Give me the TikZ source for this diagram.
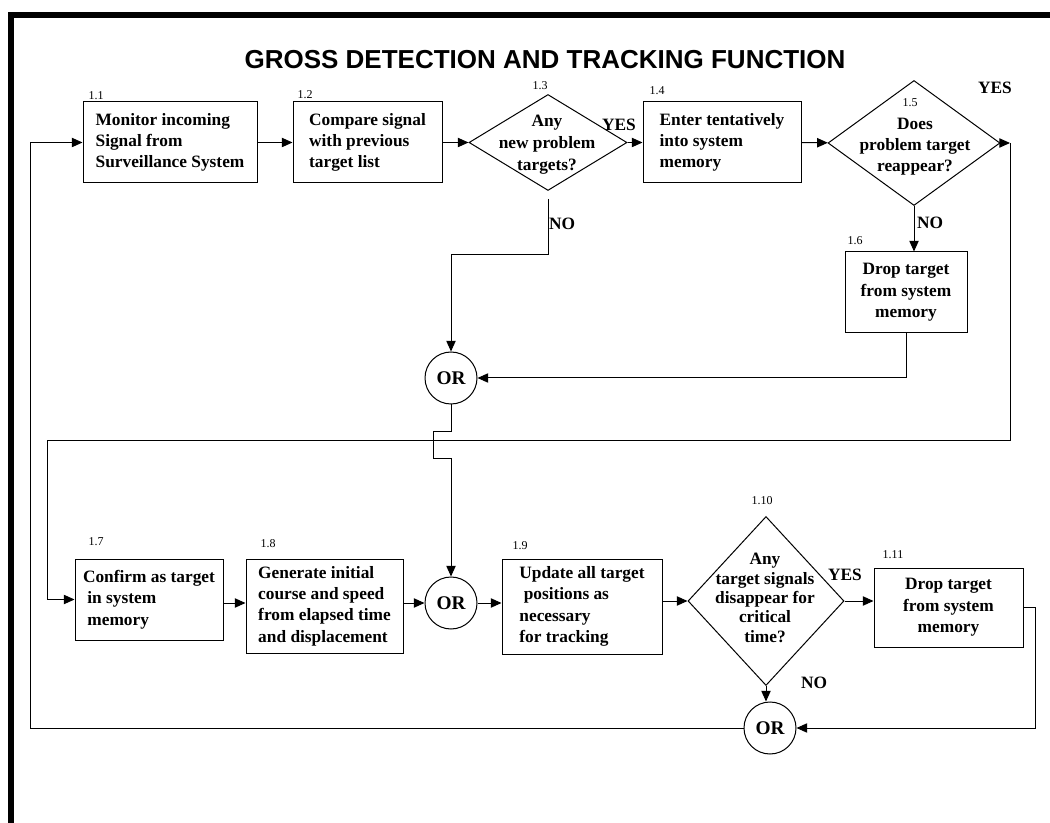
\documentclass[tikz,border=0pt]{standalone}
\usepackage{fontspec}
\setmainfont{Liberation Serif}
\newfontfamily\headfont{Liberation Sans}
\usetikzlibrary{shapes.geometric,arrows.meta}

\begin{document}
\begin{tikzpicture}[x=0.75pt,y=-0.75pt,line width=0.75pt,
    proc/.style={draw,align=left,font=\fontsize{13}{16}\selectfont\bfseries,minimum height=60.75pt},
    decision/.style={draw,diamond,inner sep=0pt},
    qtext/.style={align=center,font=\fontsize{13}{16}\selectfont\bfseries},
    orgate/.style={draw,circle,inner sep=0pt,minimum size=39pt,font=\fontsize{14.5}{17}\selectfont\bfseries},
    tag/.style={font=\fontsize{9}{11}\selectfont},
    answer/.style={font=\fontsize{13}{16}\selectfont\bfseries},
    arr/.style={-{Triangle[length=8pt,width=7pt]}}]
\useasboundingbox (0,0) rectangle (1050,823);
\draw[line width=4.5pt] (11,823) -- (11,15) -- (1050,15);
\node[font=\headfont\fontsize{19.5}{23}\selectfont\bfseries] (title) at (545,60) {GROSS DETECTION AND TRACKING FUNCTION};

% top row
\node[proc,minimum width=130.5pt] (b11) at (170,142.5) {Monitor incoming\\Signal from\\Surveillance System};
\node[proc,minimum width=111.75pt] (b12) at (367.5,142.5) {Compare signal\\with previous\\target list};
\node[decision,minimum width=118.5pt,minimum height=72pt] (d13) at (548,142.5) {};
\node[qtext,font=\fontsize{13}{16.5}\selectfont\bfseries] (t13) at (547,145) {Any\\new problem\\targets?};
\node[proc,minimum width=118.5pt] (b14) at (722,142.5) {Enter tentatively\\into system\\memory};
\node[decision,minimum width=129pt,minimum height=93.75pt] (d15) at (914,143) {};
\node[qtext,font=\fontsize{13}{15.75}\selectfont\bfseries] (t15) at (915,147) {Does\\problem target\\reappear?};
\node[proc,align=center,minimum width=91.5pt] (b16) at (906,292.5) {Drop target\\from system\\memory};
\node[orgate] (or1) at (451,378) {OR};

% bottom row
\node[proc,minimum width=111pt] (b17) at (149,599.5) {Confirm as target\\\ in system\\\ memory};
\node[proc,minimum width=117.75pt,minimum height=70.5pt] (b18) at (324.5,606) {Generate initial\\course and speed\\from elapsed time\\and displacement};
\node[orgate] (or2) at (451,603) {OR};
\node[proc,minimum width=120pt,minimum height=71.25pt] (b19) at (582,606.5) {Update all target\\\ positions as\\necessary\\for tracking};
\node[decision,minimum width=117pt,minimum height=126.75pt] (d110) at (766,601) {};
\node[qtext,font=\fontsize{13}{14.5}\selectfont\bfseries] (t110) at (765,598) {Any\\target signals\\disappear for\\critical\\time?};
\node[proc,align=center,minimum width=111.75pt,minimum height=59.25pt] (b111) at (948.5,607.5) {Drop target\\from system\\memory};
\node[orgate] (or3) at (770,728) {OR};

% step numbers
\node[tag] (n11) at (96,96) {1.1};
\node[tag] (n12) at (305,95) {1.2};
\node[tag] (n13) at (540,86) {1.3};
\node[tag] (n14) at (657,91) {1.4};
\node[tag] (n15) at (910,103) {1.5};
\node[tag] (n16) at (855,241) {1.6};
\node[tag] (n17) at (96,542) {1.7};
\node[tag] (n18) at (268,544) {1.8};
\node[tag] (n19) at (520,546) {1.9};
\node[tag] (n110) at (762,501) {1.10};
\node[tag] (n111) at (893,555) {1.11};

% yes / no
\node[answer] (y13) at (619,125) {YES};
\node[answer] (no13) at (562,224) {NO};
\node[answer] (y15) at (995,88) {YES};
\node[answer] (no15) at (930,223) {NO};
\node[answer] (y110) at (845,575) {YES};
\node[answer] (no110) at (814,683) {NO};

% connectors
\draw[arr] (b11) -- (b12);
\draw[arr] (b12) -- (d13);
\draw[arr] (d13) -- (b14);
\draw[arr] (b14) -- (d15);
\coordinate (c15) at (1010,143);
\draw[arr] (d15.east) -- (c15);
\draw[arr] (c15) -- (1010,441) -| ([xshift=-20.25pt]b17.west) -- (b17.west);
\draw[arr,shorten <=6pt] (d13.south) -- ++(0,64) -| (or1.north);
\draw[arr] (d15.south) -- (d15.south |- b16.north);
\draw[arr] (b16.south) |- (or1.east);
\draw[arr] (or1.south) -- ++(0,27) -- ++(-18,0) -- ++(0,27) -- ++(18,0) -- (or2.north);
\draw[arr] (b17.east |- or2) -- (b18.west |- or2);
\draw[arr] (b18.east |- or2) -- (or2.west);
\draw[arr] (or2.east) -- (b19.west |- or2);
\draw[arr] (b19.east |- d110) -- (d110.west);
\draw[arr] (d110.east) -- (d110.east -| b111.west);
\draw[arr] (d110.south) -- (d110.south |- or3.north);
\draw[arr] (b111.east) -- ++(12,0) |- (or3.east);
\draw[arr] (or3.west) -| ([xshift=-39pt]b11.west) -- (b11.west);
\end{tikzpicture}
\end{document}
